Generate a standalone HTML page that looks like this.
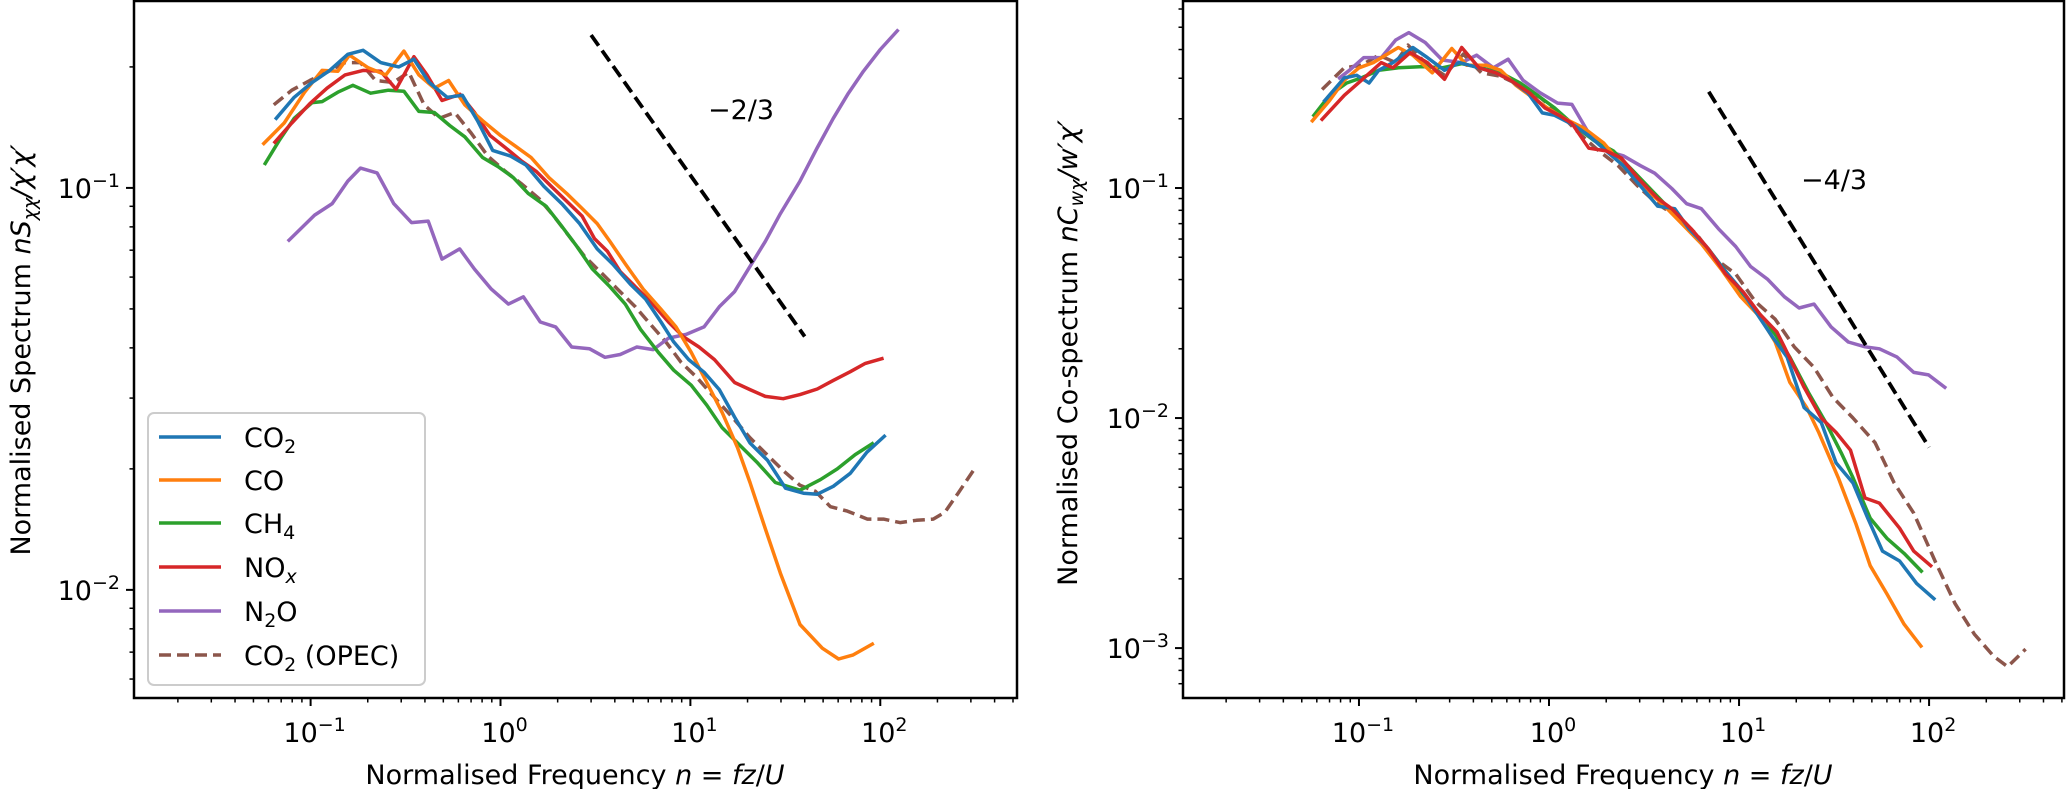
<!DOCTYPE html>
<html><head><meta charset="utf-8"><style>
html,body{margin:0;padding:0;background:#fff;}
svg{display:block;font-family:"DejaVu Sans","Liberation Sans",sans-serif;}
</style></head><body>
<svg id="fig" width="2067" height="789" viewBox="0 0 2067 789" xmlns="http://www.w3.org/2000/svg">
<g id="left"></g>
<g id="right"></g>
</svg>
<script>
// ---------- Left panel data (normalised spectrum) ----------
const L_co2_n=[0.066,0.082,0.102,0.126,0.157,0.189,0.234,0.291,0.35,0.421,0.524,0.63,0.757,0.91,1.13,1.36,1.69,2.10,2.61,3.23,3.89,4.83,5.81,7.0,8.17,9.8,11.8,14.2,17.1,20.6,25.5,31.7,39.4,46.6,56.6,69.5,85,105];
const L_co2_v=[0.149,0.168,0.183,0.196,0.215,0.220,0.205,0.200,0.209,0.183,0.168,0.170,0.147,0.124,0.120,0.114,0.101,0.0914,0.0815,0.0705,0.0647,0.0576,0.0529,0.0464,0.0414,0.0374,0.0348,0.0315,0.0269,0.0232,0.0210,0.0179,0.0174,0.0173,0.0181,0.0195,0.022,0.0241];
const L_co_n=[0.0567,0.0726,0.093,0.115,0.139,0.160,0.201,0.249,0.31,0.372,0.448,0.533,0.649,0.805,1.0,1.20,1.45,1.80,2.23,2.69,3.23,3.77,4.54,5.64,7.0,8.4,10.1,12.2,14.7,17.7,20.6,24.8,29.8,37.8,49.5,60.3,72,90.8];
const L_co_v=[0.129,0.145,0.173,0.196,0.195,0.214,0.199,0.191,0.219,0.191,0.177,0.185,0.161,0.147,0.135,0.127,0.119,0.106,0.0969,0.0889,0.0815,0.0736,0.0647,0.056,0.0499,0.0451,0.039,0.0328,0.0276,0.0226,0.0185,0.0142,0.011,0.0082,0.00716,0.00673,0.00689,0.00733];
const L_ch4_n=[0.0577,0.0682,0.082,0.102,0.115,0.139,0.167,0.207,0.257,0.31,0.372,0.448,0.54,0.649,0.805,0.97,1.17,1.40,1.74,2.1,2.52,3.04,3.77,4.54,5.46,6.78,8.17,10.1,12.2,14.7,18.2,22.6,28,37.8,48.3,59.4,73.8,90.8];
const L_ch4_v=[0.115,0.131,0.149,0.163,0.164,0.173,0.180,0.172,0.175,0.174,0.155,0.154,0.143,0.134,0.119,0.113,0.106,0.0969,0.090,0.0803,0.0716,0.0629,0.0568,0.0514,0.0445,0.039,0.0352,0.0323,0.0288,0.0253,0.0229,0.0207,0.0185,0.0177,0.0188,0.020,0.0217,0.0231];
const L_nox_n=[0.0649,0.0796,0.099,0.122,0.152,0.189,0.234,0.282,0.35,0.41,0.492,0.612,0.73,0.88,1.06,1.28,1.54,1.85,2.23,2.69,3.13,3.66,4.27,5.13,6.18,7.67,9.2,11.1,13.4,17.1,20.6,24.8,30.8,37.8,46.6,56.6,69.5,83.4,102];
const L_nox_v=[0.130,0.145,0.162,0.177,0.191,0.196,0.195,0.176,0.212,0.191,0.165,0.171,0.154,0.135,0.126,0.117,0.110,0.101,0.0927,0.0851,0.0747,0.0695,0.0619,0.0568,0.0521,0.0464,0.0426,0.0402,0.0374,0.0328,0.0315,0.0303,0.0299,0.0306,0.0316,0.0332,0.0349,0.0366,0.0376];
const L_n2o_n=[0.077,0.105,0.130,0.157,0.183,0.224,0.274,0.34,0.416,0.492,0.61,0.73,0.895,1.10,1.32,1.62,1.95,2.37,2.94,3.55,4.27,5.22,6.37,7.67,9.5,11.8,14.2,17.1,20.6,24.8,29.8,37.8,46.6,56.6,67.9,81.5,100,123];
const L_n2o_v=[0.0741,0.0856,0.0914,0.104,0.112,0.109,0.0914,0.082,0.0827,0.0665,0.0705,0.0628,0.056,0.0514,0.0536,0.0464,0.0451,0.0402,0.0398,0.0379,0.0385,0.0402,0.0396,0.0423,0.0432,0.0451,0.0506,0.0552,0.0638,0.0736,0.0863,0.104,0.126,0.149,0.172,0.195,0.221,0.246];
const L_opec_n=[0.064,0.0796,0.099,0.122,0.152,0.183,0.220,0.273,0.329,0.396,0.477,0.574,0.70,0.857,1.06,1.28,1.59,1.91,2.30,2.77,3.44,4.13,5.13,6.18,7.43,8.95,10.8,13.4,16.6,20.6,24.8,30.8,37.8,45.5,54.6,67,85.5,104,127,155,190,219,257,309];
const L_opec_v=[0.161,0.175,0.185,0.194,0.205,0.205,0.185,0.183,0.194,0.161,0.149,0.154,0.137,0.120,0.110,0.1026,0.0942,0.085,0.0758,0.0676,0.0611,0.056,0.0506,0.0457,0.0414,0.0368,0.0338,0.0301,0.0269,0.0239,0.0219,0.0198,0.0182,0.0176,0.0161,0.0157,0.0150,0.0150,0.0147,0.0149,0.0150,0.0156,0.0174,0.0198];
const L_ref_n=[3,40];
const L_ref_slope=-2/3;
const L_ref_v0=0.24;
const L_yticks=[0.1,0.01];
const L_ylabels=["−1","−2"];

// ---------- Right panel data (normalised co-spectrum) ----------
const R_co2_n=[0.066,0.0837,0.0974,0.113,0.127,0.151,0.192,0.229,0.282,0.337,0.428,0.525,0.628,0.773,0.922,1.07,1.36,1.62,2.0,2.46,3.03,3.73,4.59,5.45,6.73,8.28,10.2,12.5,15.0,17.9,22.0,27.1,32.4,39.8,47.6,56.9,70,86,106];
const R_co2_v=[0.240,0.301,0.309,0.286,0.325,0.351,0.408,0.369,0.325,0.351,0.333,0.317,0.294,0.259,0.212,0.207,0.187,0.169,0.145,0.125,0.102,0.0834,0.0813,0.0665,0.0557,0.0445,0.0363,0.0282,0.0225,0.0184,0.0111,0.00955,0.00638,0.00522,0.00367,0.00264,0.00239,0.00191,0.00164];
const R_co_n=[0.0569,0.070,0.0837,0.1,0.119,0.161,0.192,0.243,0.308,0.369,0.467,0.557,0.671,0.79,0.98,1.20,1.53,1.94,2.45,3.11,3.94,5.0,6.34,8.04,10.2,12.9,15.5,18.5,22.7,26.3,33.3,41.1,49.0,60.0,73.9,90.6];
const R_co_v=[0.196,0.240,0.294,0.333,0.351,0.408,0.378,0.317,0.404,0.342,0.342,0.325,0.279,0.253,0.223,0.201,0.182,0.157,0.125,0.102,0.0855,0.070,0.0572,0.0445,0.0337,0.0275,0.0214,0.0143,0.0111,0.00865,0.0055,0.00349,0.00228,0.00172,0.00127,0.00102];
const R_ch4_n=[0.0579,0.070,0.0862,0.103,0.127,0.161,0.216,0.274,0.347,0.440,0.557,0.705,0.87,1.07,1.36,1.72,2.18,2.76,3.5,4.43,5.6,6.9,8.5,10.5,12.9,15.5,18.5,23.2,28.6,34.5,39.8,49,60,73.9,91];
const R_ch4_v=[0.207,0.253,0.286,0.301,0.325,0.333,0.337,0.333,0.347,0.333,0.317,0.286,0.253,0.223,0.187,0.161,0.145,0.119,0.097,0.0793,0.0649,0.0543,0.0434,0.0345,0.0282,0.0231,0.0184,0.0129,0.00955,0.00706,0.0055,0.00367,0.0030,0.00258,0.00216];
const R_nox_n=[0.064,0.0837,0.103,0.131,0.151,0.186,0.229,0.282,0.347,0.428,0.525,0.628,0.79,0.95,1.13,1.32,1.62,2.0,2.4,2.95,3.73,4.43,5.6,6.9,8.5,10.5,12.9,15.8,17.3,22,27.1,32.4,38.6,46,54.8,70,83,102];
const R_nox_v=[0.199,0.253,0.294,0.351,0.333,0.388,0.351,0.297,0.408,0.333,0.317,0.294,0.259,0.223,0.207,0.191,0.149,0.145,0.135,0.110,0.090,0.0813,0.0665,0.0543,0.0423,0.0354,0.0282,0.0237,0.0204,0.0136,0.0100,0.00865,0.00725,0.00449,0.00427,0.00332,0.00264,0.00228];
const R_n2o_n=[0.079,0.089,0.106,0.131,0.156,0.183,0.223,0.274,0.347,0.416,0.51,0.61,0.73,0.90,1.11,1.32,1.62,2.0,2.46,3.03,3.6,4.43,5.3,6.34,7.8,9.6,11.5,14.1,17.3,20.7,24.8,30.5,37.6,46,54.8,67.9,83,99.3,121];
const R_n2o_v=[0.301,0.325,0.369,0.369,0.44,0.474,0.429,0.36,0.351,0.378,0.333,0.363,0.294,0.259,0.234,0.231,0.173,0.145,0.138,0.125,0.116,0.0995,0.0855,0.0813,0.0665,0.0557,0.0456,0.0402,0.0337,0.0301,0.0313,0.0249,0.0214,0.0204,0.020,0.0184,0.0158,0.0154,0.0136];
const R_opec_n=[0.064,0.0837,0.103,0.127,0.156,0.181,0.223,0.282,0.354,0.44,0.557,0.705,0.90,1.13,1.44,1.83,2.31,2.93,3.7,4.7,5.96,7.55,9.6,12.2,15.5,19.5,24.8,31.2,39.8,52,65.5,83,109,137,173,219,259,322];
const R_opec_v=[0.268,0.333,0.342,0.378,0.351,0.418,0.351,0.309,0.382,0.317,0.306,0.279,0.247,0.212,0.173,0.145,0.125,0.102,0.0855,0.0754,0.0632,0.0491,0.0423,0.032,0.0269,0.0204,0.0166,0.0123,0.0100,0.00781,0.00522,0.00386,0.00233,0.00156,0.00115,0.00092,0.00083,0.00099];
const R_ref_n=[6.93,100];
const R_ref_slope=-4/3;
const R_ref_v0=0.262;
const R_yticks=[0.1,0.01,0.001];
const R_ylabels=["−1","−2","−3"];

const xticks=[0.1,1,10,100];
const xlabels=["−1","0","1","2"];

const NS="http://www.w3.org/2000/svg";
const C={co2:"#1f77b4",co:"#ff7f0e",ch4:"#2ca02c",nox:"#d62728",n2o:"#9467bd",opec:"#8c564b"};

function mk(tag,attrs,parent){const e=document.createElementNS(NS,tag);for(const k in attrs)e.setAttribute(k,attrs[k]);if(parent)parent.appendChild(e);return e;}

function makeAxis(x0,x1,y0,y1,lxmin,lxmax,lymin,lymax){
  return {
    x:v=>x0+(Math.log10(v)-lxmin)/(lxmax-lxmin)*(x1-x0),
    y:v=>y1-(Math.log10(v)-lymin)/(lymax-lymin)*(y1-y0),
    x0,x1,y0,y1,lxmin,lxmax,lymin,lymax
  };
}

function drawLine(g,ax,ns,vs,color,dashed,name){
  let d="";
  for(let i=0;i<ns.length;i++){d+=(i?"L":"M")+ax.x(ns[i]).toFixed(1)+","+ax.y(vs[i]).toFixed(1);}
  const p=mk("path",{d:d,fill:"none",stroke:color,"stroke-width":3.5,"stroke-linejoin":"round","stroke-linecap":dashed?"butt":"square"},g);
  if(dashed)p.setAttribute("stroke-dasharray","12,6");
  
  
}

function drawRef(g,ax,ns,v0,slope,name){
  const v1=v0*Math.pow(ns[1]/ns[0],slope);
  const p=mk("line",{x1:ax.x(ns[0]),y1:ax.y(v0),x2:ax.x(ns[1]),y2:ax.y(v1),stroke:"#000","stroke-width":3.8,"stroke-dasharray":"13,6"},g);
  
  
}

function sup10(g,x,y,exp,anchor,name){
  const t=mk("text",{x:x,y:y,"font-size":27,"text-anchor":anchor,fill:"#000"},g);
  
  
  const a=mk("tspan",{},t);a.textContent="10";
  const b=mk("tspan",{dy:-11,"font-size":19},t);b.textContent=exp;
  return t;
}

function drawFrame(g,ax,yt,yl,prefix){
  for(let d=-3;d<=3;d++){
    for(let k=1;k<10;k++){
      const v=k*Math.pow(10,d), lv=Math.log10(v);
      if(lv>=ax.lxmin&&lv<=ax.lxmax){
        const X=ax.x(v), len=k===1?8:4.5;
        const t=mk("line",{x1:X,y1:ax.y1,x2:X,y2:ax.y1+len,stroke:"#000","stroke-width":k===1?2:1.5},g);
        
        
      }
    }
  }
  for(let d=-4;d<=1;d++){
    for(let k=1;k<10;k++){
      const v=k*Math.pow(10,d), lv=Math.log10(v);
      if(lv>=ax.lymin&&lv<=ax.lymax){
        const Y=ax.y(v), len=k===1?8:4.5;
        const t=mk("line",{x1:ax.x0-len,y1:Y,x2:ax.x0,y2:Y,stroke:"#000","stroke-width":k===1?2:1.5},g);
        
        
      }
    }
  }
  xticks.forEach((v,i)=>{sup10(g,ax.x(v)+4,742,xlabels[i],"middle",prefix+'-x-tick-label');});
  yt.forEach((v,i)=>{sup10(g,ax.x0-14,ax.y(v)+10,yl[i],"end",prefix+'-y-tick-label');});
  const r=mk("rect",{x:ax.x0,y:ax.y0,width:ax.x1-ax.x0,height:ax.y1-ax.y0,fill:"none",stroke:"#000","stroke-width":2.5},g);
  
  
}

function xlabel(g,cx,name){
  const t=mk("text",{x:cx,y:784,"font-size":27,"text-anchor":"middle"},g);
  
  
  t.innerHTML='Normalised Frequency <tspan font-style="italic">n</tspan> = <tspan font-style="italic">fz</tspan>/<tspan font-style="italic">U</tspan>';
}

// ---------- Left ----------
const gL=document.getElementById("left");
const axL=makeAxis(134,1017,1,698,-1.93,2.72,-2.269,-0.535);
drawLine(gL,axL,L_opec_n,L_opec_v,C.opec,true,"line-co2-opec");
drawLine(gL,axL,L_n2o_n,L_n2o_v,C.n2o,false,"line-n2o");
drawLine(gL,axL,L_ch4_n,L_ch4_v,C.ch4,false,"line-ch4");
drawLine(gL,axL,L_nox_n,L_nox_v,C.nox,false,"line-nox");
drawLine(gL,axL,L_co_n,L_co_v,C.co,false,"line-co");
drawLine(gL,axL,L_co2_n,L_co2_v,C.co2,false,"line-co2");
drawRef(gL,axL,L_ref_n,L_ref_v0,L_ref_slope,"slope-line-minus-2-3");
{const t=mk("text",{x:741,y:119,"font-size":27,"text-anchor":"middle"},gL);t.textContent="−2/3";

}
drawFrame(gL,axL,L_yticks,L_ylabels,"left");
xlabel(gL,575,"left-x-axis-title");
{const t=mk("text",{x:0,y:0,"font-size":27,"text-anchor":"middle",transform:"translate(30,350) rotate(-90)"},gL);


t.innerHTML='Normalised Spectrum <tspan font-style="italic">nS</tspan><tspan font-style="italic" font-size="19" dy="6">χχ</tspan><tspan dy="-6" font-style="italic">/χ′χ′</tspan>';}

// legend
const leg=mk("g",{},gL);


{const r=mk("rect",{x:148,y:413,width:277,height:272,rx:6,fill:"#fff","fill-opacity":0.8,stroke:"#cccccc","stroke-width":2},leg);

}
const legItems=[
  ["co2",'CO<tspan font-size="19" dy="6">2</tspan>',false],
  ["co",'CO',false],
  ["ch4",'CH<tspan font-size="19" dy="6">4</tspan>',false],
  ["nox",'NO<tspan font-size="19" dy="6" font-style="italic">x</tspan>',false],
  ["n2o",'N<tspan font-size="19" dy="6">2</tspan><tspan dy="-6">O</tspan>',false],
  ["opec",'CO<tspan font-size="19" dy="6">2</tspan><tspan dy="-6"> (OPEC)</tspan>',true]
];
const legY=[437,480,523,567,611,655];
legItems.forEach((it,i)=>{
  const g=mk("g",{},leg);
  
  
  const l=mk("line",{x1:159,y1:legY[i],x2:221,y2:legY[i],stroke:C[it[0]],"stroke-width":3.5},g);
  if(it[2])l.setAttribute("stroke-dasharray","12,6");
  const t=mk("text",{x:244,y:legY[i]+10,"font-size":27},g);
  t.innerHTML=it[1];
});

// ---------- Right ----------
const gR=document.getElementById("right");
const axR=makeAxis(1183,2064,1,698,-1.926,2.71,-3.217,-0.187);
drawLine(gR,axR,R_opec_n,R_opec_v,C.opec,true,"line-co2-opec");
drawLine(gR,axR,R_n2o_n,R_n2o_v,C.n2o,false,"line-n2o");
drawLine(gR,axR,R_ch4_n,R_ch4_v,C.ch4,false,"line-ch4");
drawLine(gR,axR,R_co_n,R_co_v,C.co,false,"line-co");
drawLine(gR,axR,R_co2_n,R_co2_v,C.co2,false,"line-co2");
drawLine(gR,axR,R_nox_n,R_nox_v,C.nox,false,"line-nox");
drawRef(gR,axR,R_ref_n,R_ref_v0,R_ref_slope,"slope-line-minus-4-3");
{const t=mk("text",{x:1834,y:189,"font-size":27,"text-anchor":"middle"},gR);t.textContent="−4/3";

}
drawFrame(gR,axR,R_yticks,R_ylabels,"right");
xlabel(gR,1623,"right-x-axis-title");
{const t=mk("text",{x:0,y:0,"font-size":27,"text-anchor":"middle",transform:"translate(1077,353) rotate(-90)"},gR);


t.innerHTML='Normalised Co-spectrum <tspan font-style="italic">nC</tspan><tspan font-style="italic" font-size="19" dy="6">wχ</tspan><tspan dy="-6" font-style="italic">/w′χ′</tspan>';}
</script>
</body></html>
